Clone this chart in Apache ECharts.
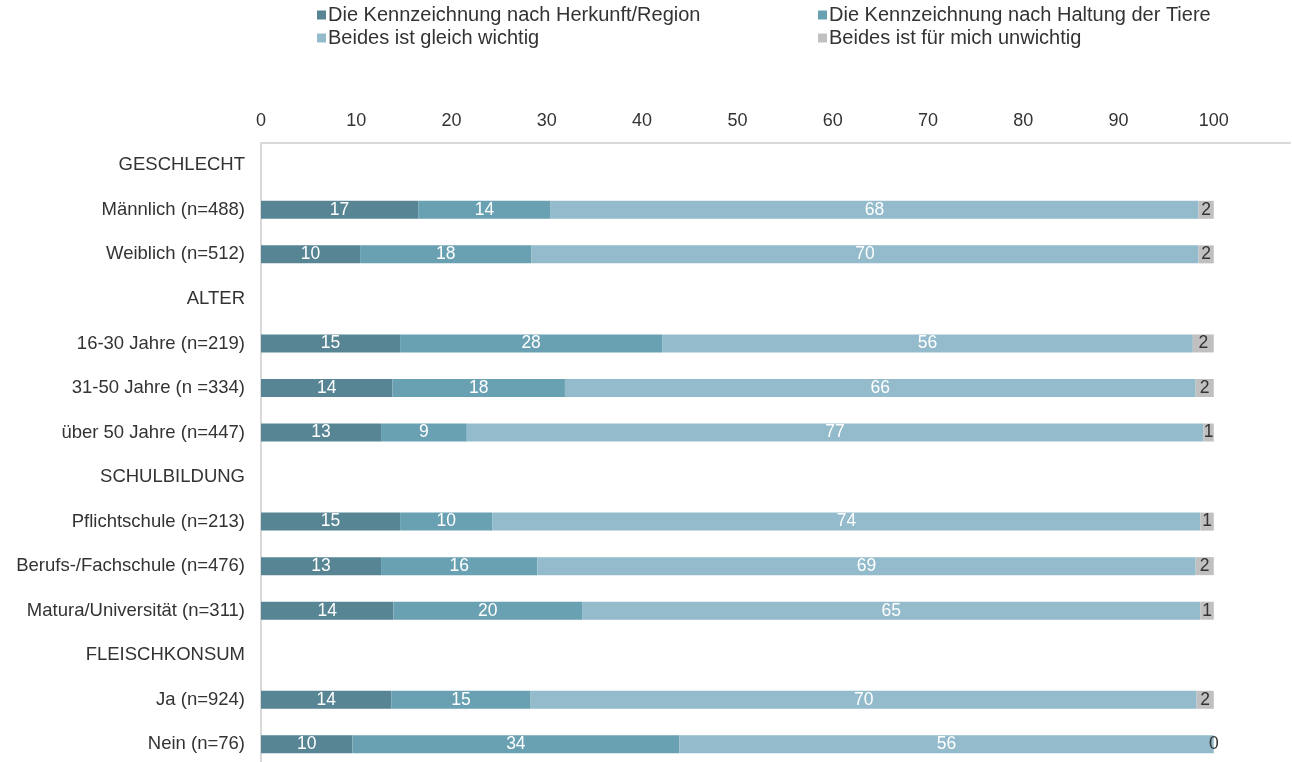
<!DOCTYPE html>
<html>
<head>
<meta charset="utf-8">
<script src="https://cdn.jsdelivr.net/npm/echarts@6/dist/echarts.min.js"></script>
<style>html,body{margin:0;padding:0;background:#fff;overflow:hidden;}#c{width:1292px;height:772px;}</style>
</head>
<body>
<div id="c"></div>
<script>
const categories = ['GESCHLECHT','Männlich (n=488)','Weiblich (n=512)','ALTER','16-30 Jahre (n=219)','31-50 Jahre (n =334)','über 50 Jahre (n=447)','SCHULBILDUNG','Pflichtschule (n=213)','Berufs-/Fachschule (n=476)','Matura/Universität (n=311)','FLEISCHKONSUM','Ja (n=924)','Nein (n=76)'];
const seriesNames = ['Die Kennzeichnung nach Herkunft/Region','Die Kennzeichnung nach Haltung der Tiere','Beides ist gleich wichtig','Beides ist für mich unwichtig'];
const herkunft = [null,16.5,10.4,null,14.6,13.8,12.6,null,14.6,12.6,13.9,null,13.7,9.6];
const haltung  = [null,13.9,18.0,null,27.5,18.1,9.0,null,9.7,16.4,19.8,null,14.6,34.3];
const beides   = [null,68.0,70.0,null,55.7,66.2,77.3,null,74.3,69.1,64.9,null,69.9,56.1];
const unwichtig= [null,1.6,1.6,null,2.2,1.9,1.1,null,1.4,1.9,1.4,null,1.8,0];
const xTicks = [0,10,20,30,40,50,60,70,80,90,100];

const colors = ['#578594','#69a1b3','#93bbcb','#c0c0c0'];
const values = [herkunft, haltung, beides, unwichtig];
const font = '"Liberation Sans",Arial,sans-serif';

const series = values.map((arr, i) => ({
  name: seriesNames[i],
  type: 'bar',
  stack: 'total',
  barWidth: 18,
  data: arr,
  itemStyle: {color: colors[i]},
  label: {
    show: true,
    position: 'inside',
    color: i === 3 ? '#333' : '#fff',
    fontSize: 17.5,
    fontFamily: font,
    formatter: p => (p.value == null ? '' : String(Math.round(p.value)))
  }
}));

const legendPos = [[312,0],[813,0],[312,23],[813,23]];
const legends = seriesNames.map((n, i) => ({
  data: [n],
  left: legendPos[i][0],
  top: legendPos[i][1],
  icon: 'rect',
  itemWidth: 9,
  itemHeight: 9,
  itemGap: 0,
  textStyle: {fontSize: 20, color: '#333', fontFamily: font, padding: [0,0,0,-3]},
  selectedMode: false
}));

const chart = echarts.init(document.getElementById('c'), null, {renderer: 'canvas'});
chart.setOption({
  animation: false,
  backgroundColor: '#fff',
  textStyle: {fontFamily: font},
  legend: legends,
  grid: {left: 261, right: 2, top: 143, height: 623.6, containLabel: false},
  xAxis: {
    type: 'value',
    position: 'top',
    min: 0,
    max: 108,
    interval: 10,
    axisLine: {show: true, lineStyle: {color: '#d9d9d9', width: 2}},
    axisTick: {show: false},
    splitLine: {show: false},
    axisLabel: {
      color: '#333', fontSize: 18, margin: 13,
      showMaxLabel: false,
      formatter: v => (xTicks.indexOf(v) >= 0 ? String(v) : '')
    }
  },
  yAxis: {
    type: 'category',
    inverse: true,
    data: categories,
    axisLine: {show: true, lineStyle: {color: '#d9d9d9', width: 2}},
    axisTick: {show: false},
    axisLabel: {color: '#333', fontSize: 18.5, margin: 16}
  },
  series: series
});
</script>
</body>
</html>
